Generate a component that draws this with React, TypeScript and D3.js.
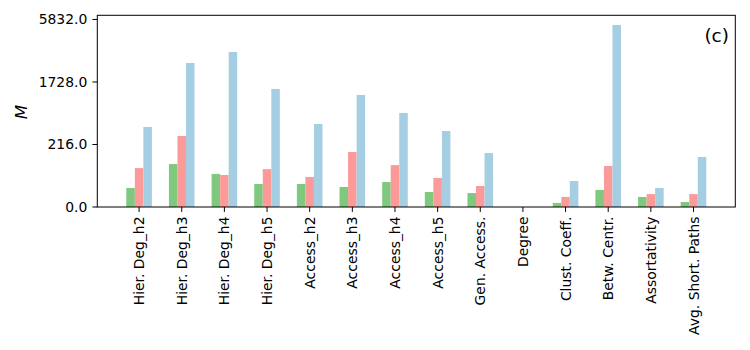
import React from "react";
import * as d3 from "d3";

const categories = [
  "Hier. Deg_h2", "Hier. Deg_h3", "Hier. Deg_h4", "Hier. Deg_h5",
  "Access_h2", "Access_h3", "Access_h4", "Access_h5", "Gen. Access.",
  "Degree", "Clust. Coeff.", "Betw. Centr.", "Assortativity", "Avg. Short. Paths",
];
const seriesGreen = [6.1, 70, 32, 10.8, 10.8, 7.1, 13.8, 3.0, 2.4, 0, 0.06, 4.4, 0.9, 0.11];
const seriesRed = [52, 317, 29, 48, 24, 147, 65, 21.6, 8.2, 0, 0.9, 61, 1.9, 1.9];
const seriesBlue = [453, 2642, 3295, 1454, 506, 1243, 735, 388, 139, 0, 15.5, 5334, 6.1, 111];
const yTicks = [0, 216, 1728, 5832];
const colors = ["#7fc97f", "#fb9a99", "#a6cee3"];

const W = 750, H = 350;
const left = 97.3, right = 735.3, top = 15.3, bottom = 207;

export default function App() {
  const x = d3.scaleLinear().domain([-0.98, 13.98]).range([left, right]);
  const y = d3.scalePow().exponent(1 / 3).domain([0, Math.pow(18.4, 3)]).range([bottom, top]);
  const series = [seriesGreen, seriesRed, seriesBlue];
  const bw = 0.2;
  const font = "DejaVu Sans, sans-serif";
  return (
    <svg width={W} height={H} style={{ position: "absolute", left: 0, top: 0 }} fontFamily={font}>
      <rect x={0} y={0} width={W} height={H} fill="white" />
      {series.map((s, si) =>
        s.map((v, i) => {
          const cx = i + (si - 1) * bw;
          const x0 = x(cx - bw / 2);
          const x1 = x(cx + bw / 2);
          return (
            <rect key={`${si}-${i}`} x={x0} width={x1 - x0} y={y(v)} height={bottom - y(v)} fill={colors[si]} />
          );
        })
      )}
      <rect x={left} y={top} width={right - left} height={bottom - top} fill="none" stroke="black" strokeWidth={1} />
      {yTicks.map((t) => (
        <g key={t}>
          <line x1={left - 4.9} x2={left} y1={y(t)} y2={y(t)} stroke="black" />
          <text x={left - 10} y={y(t)} dy="0.36em" textAnchor="end" fontSize={13.9} fill="black">
            {t.toFixed(1)}
          </text>
        </g>
      ))}
      {categories.map((c, i) => (
        <g key={c}>
          <line x1={x(i)} x2={x(i)} y1={bottom} y2={bottom + 4.9} stroke="black" />
          <text
            transform={`translate(${x(i)},${bottom + 9.5}) rotate(-90)`}
            textAnchor="end"
            dy="0.36em"
            fontSize={13.9}
            fill="black"
          >
            {c}
          </text>
        </g>
      ))}
      <text transform={`translate(21,112) rotate(-90)`} textAnchor="middle" fontSize={16.7} fontStyle="italic" dy="0.36em">
        M
      </text>
      <text x={729} y={42} textAnchor="end" fontSize={18.5}>(c)</text>
    </svg>
  );
}
